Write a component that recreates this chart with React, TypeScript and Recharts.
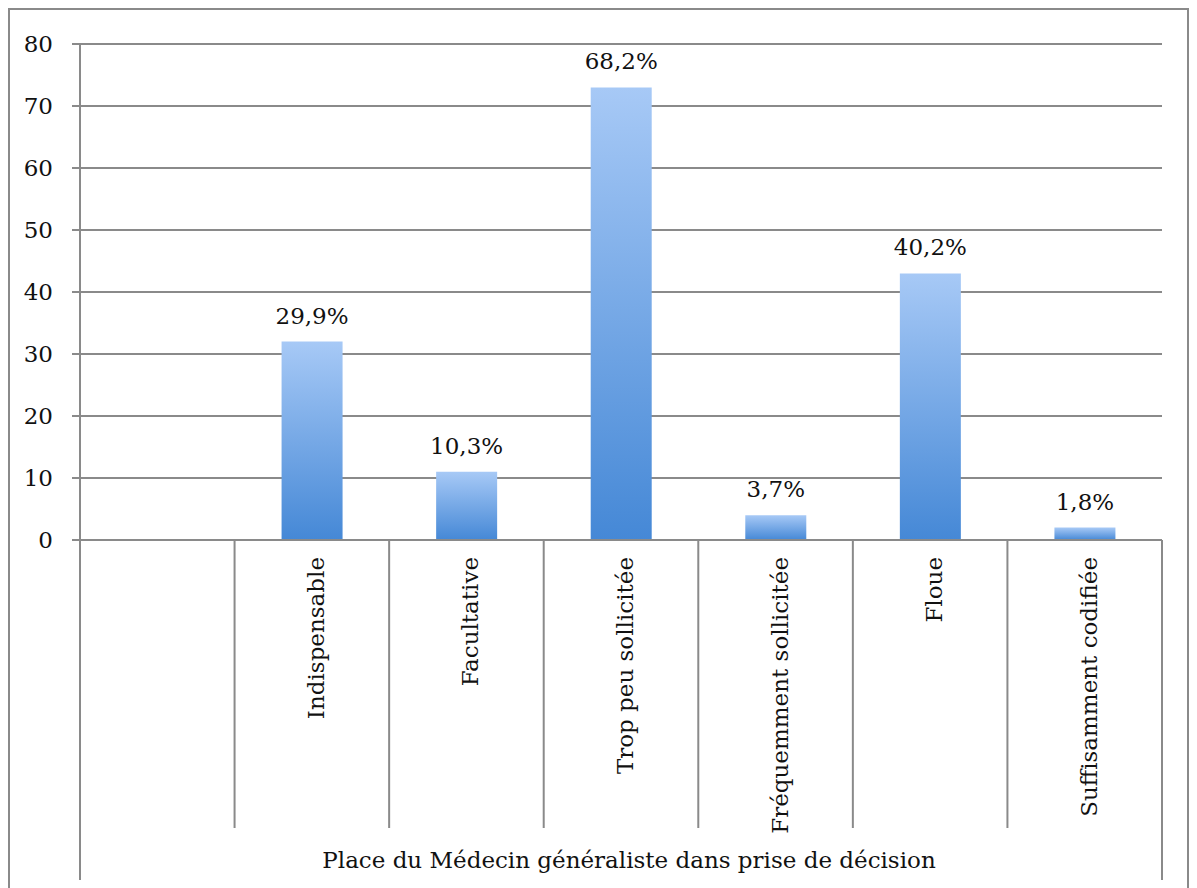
import React from "react";
import { BarChart, Bar, XAxis, YAxis, CartesianGrid, LabelList } from "recharts";

const categories = ["", "Indispensable", "Facultative", "Trop peu sollicitée", "Fréquemment sollicitée", "Floue", "Suffisamment codifiée"];
const values: (number | null)[] = [null, 32, 11, 73, 4, 43, 2];
const pctLabels = ["", "29,9%", "10,3%", "68,2%", "3,7%", "40,2%", "1,8%"];
const yTicks = [0, 10, 20, 30, 40, 50, 60, 70, 80];
const groupTitle = "Place du Médecin généraliste dans prise de décision";

const data = categories.map((name, i) => ({ name, value: values[i], label: pctLabels[i] }));

const FONT = "DejaVu Serif";
const FS = 23;
const GRAY = "#8a8a8a";
const W = 1181;
const H = 882;

const XTick = (props: any) => {
  const { x, y, payload, index, visibleTicksCount } = props;
  const off = payload && payload.offset ? payload.offset : 0;
  const last = index === visibleTicksCount - 1;
  return (
    <g>
      <line x1={x - off} x2={x - off} y1={y} y2={y + (index === 0 ? 340 : 288)} stroke={GRAY} strokeWidth={2} />
      {last && <line x1={x + off} x2={x + off} y1={y} y2={y + 340} stroke={GRAY} strokeWidth={2} />}
      {payload.value ? (
        <g transform={`translate(${x},${y}) rotate(-90)`}>
          <text x={-17} y={12} textAnchor="end" fontFamily={FONT} fontSize={FS} fill="#111">
            {payload.value}
          </text>
        </g>
      ) : null}
    </g>
  );
};

const TopLabel = (props: any) => {
  const { x, y, width, value } = props;
  if (!value) return null;
  return (
    <text x={x + width / 2} y={y - 18} textAnchor="middle" fontFamily={FONT} fontSize={FS} fill="#111">
      {value}
    </text>
  );
};

const GroupLabel = (props: any) => {
  const { viewBox } = props;
  if (!viewBox) return null;
  return (
    <text x={viewBox.x + viewBox.width / 2 + 8} y={viewBox.y + 328} textAnchor="middle" fontFamily={FONT} fontSize={FS} fill="#111">
      {groupTitle}
    </text>
  );
};

export default function App() {
  return (
    <div style={{ position: "relative", width: W, height: H }}>
      <BarChart width={W} height={H} data={data} margin={{ top: 36, right: 27, left: 0, bottom: 0 }}>
        <defs>
          <linearGradient id="barGrad" x1="0" y1="0" x2="0" y2="1">
            <stop offset="0%" stopColor="#a7c9f6" />
            <stop offset="100%" stopColor="#4588d6" />
          </linearGradient>
        </defs>
        <CartesianGrid horizontal vertical={false} stroke={GRAY} strokeWidth={2} />
        <XAxis
          dataKey="name"
          interval={0}
          height={350}
          tickLine={false}
          tickSize={0}
          tickMargin={0}
          axisLine={{ stroke: GRAY, strokeWidth: 2 }}
          tick={<XTick />}
          label={<GroupLabel />}
        />
        <YAxis
          domain={[0, 80]}
          ticks={yTicks}
          width={72}
          tickSize={8}
          tickMargin={19}
          tickLine={{ stroke: GRAY, strokeWidth: 2 }}
          axisLine={{ stroke: GRAY, strokeWidth: 2 }}
          tick={{ fontFamily: FONT, fontSize: FS, fill: "#111" }}
          interval={0}
        />
        <Bar dataKey="value" fill="url(#barGrad)" barSize={61} isAnimationActive={false}>
          <LabelList dataKey="label" content={<TopLabel />} />
        </Bar>
      </BarChart>
      <div
        style={{
          position: "absolute",
          left: 0,
          top: 0,
          width: W,
          height: H,
          boxSizing: "border-box",
          border: `2px solid ${GRAY}`,
          pointerEvents: "none",
        }}
      />
    </div>
  );
}
